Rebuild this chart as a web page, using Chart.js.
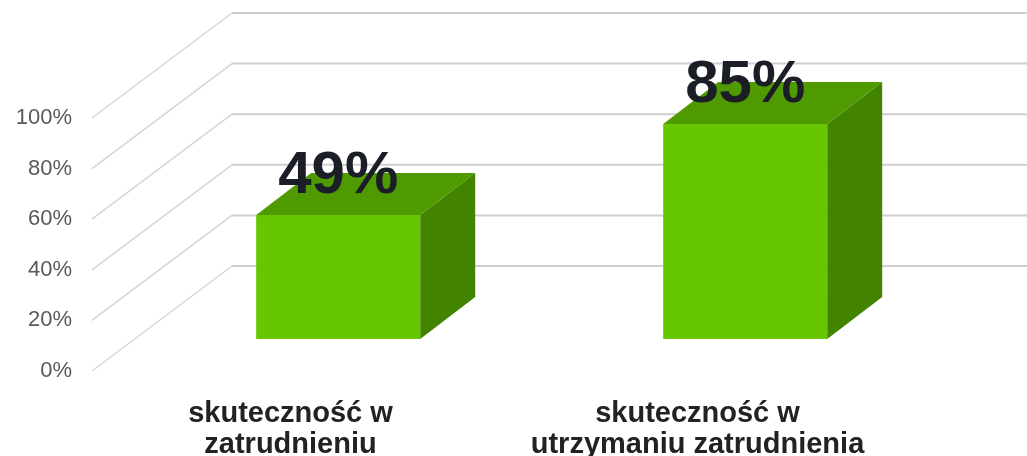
<!DOCTYPE html>
<html>
<head>
<meta charset="utf-8">
<script src="https://cdn.jsdelivr.net/npm/chart.js@4/dist/chart.umd.min.js"></script>
<style>
	html, body { margin: 0; padding: 0; background: #fff; }
	#myChart { display: block; }
</style>
</head>
<body>
<canvas id="myChart" width="1027" height="456"></canvas>
<script>
const categories = [["skuteczność w", "zatrudnieniu"], ["skuteczność w", "utrzymaniu zatrudnienia"]];
const values = [49, 85];
const valueLabels = ["49%", "85%"];
const yTicks = [0, 20, 40, 60, 80, 100];

// perspective settings
const wallDX = 140, wallDY = -105;   // front plane -> back wall
const barShift = 0.305;              // bar front face depth (fraction of wall depth)
const barDX = 55, barDY = -42;       // bar depth

const grid3d = {
	id: "grid3d",
	beforeDatasetsDraw(chart) {
		const ctx = chart.ctx;
		const y = chart.scales.y;
		const left = chart.chartArea.left;
		ctx.save();
		yTicks.forEach(v => {
			const yf = y.getPixelForValue(v);
			// diagonal
			ctx.beginPath();
			ctx.strokeStyle = "#d6d6d6";
			ctx.lineWidth = 1.5;
			ctx.moveTo(left, yf);
			ctx.lineTo(left + wallDX, yf + wallDY);
			ctx.stroke();
			// back wall line
			ctx.beginPath();
			ctx.strokeStyle = "#cfcfcf";
			ctx.lineWidth = 2;
			ctx.moveTo(left + wallDX, yf + wallDY);
			ctx.lineTo(chart.width, yf + wallDY);
			ctx.stroke();
		});
		ctx.restore();
	},
	afterDatasetsDraw(chart) {
		const ctx = chart.ctx;
		const meta = chart.getDatasetMeta(0);
		const ox = wallDX * barShift, oy = wallDY * barShift;
		ctx.save();
		meta.data.forEach((el, i) => {
			const L = el.x - el.width / 2 + ox;
			const R = el.x + el.width / 2 + ox;
			const T = el.y + oy;
			const B = el.base + oy;
			// side
			ctx.fillStyle = "#428400";
			ctx.beginPath();
			ctx.moveTo(R, T);
			ctx.lineTo(R + barDX, T + barDY);
			ctx.lineTo(R + barDX, B + barDY);
			ctx.lineTo(R, B);
			ctx.closePath();
			ctx.fill();
			// top
			ctx.fillStyle = "#4f9a00";
			ctx.beginPath();
			ctx.moveTo(L, T);
			ctx.lineTo(R, T);
			ctx.lineTo(R + barDX, T + barDY);
			ctx.lineTo(L + barDX, T + barDY);
			ctx.closePath();
			ctx.fill();
			// front
			ctx.fillStyle = "#66c600";
			ctx.fillRect(L, T, R - L, B - T);
			// value label
			ctx.fillStyle = "#1b1e27";
			ctx.font = "bold 60px 'Liberation Sans', Arial, sans-serif";
			ctx.textAlign = "center";
			ctx.textBaseline = "alphabetic";
			ctx.fillText(valueLabels[i], (L + R) / 2, T - 22);
		});
		ctx.restore();
	}
};

const ctx = document.getElementById("myChart").getContext("2d");
const myChart = new Chart(ctx, {
	type: "bar",
	data: {
		labels: categories,
		datasets: [{
			data: values,
			backgroundColor: "rgba(0,0,0,0)",
			borderWidth: 0,
			barPercentage: 0.403,
			categoryPercentage: 1
		}]
	},
	options: {
		responsive: false,
		animation: false,
		layout: { padding: { left: 0, right: 121, top: 118, bottom: 0 } },
		plugins: {
			legend: { display: false },
			tooltip: { enabled: false }
		},
		scales: {
			x: {
				grid: { display: false, drawTicks: false },
				border: { display: false },
				ticks: {
					color: "#222",
					font: { family: "'Liberation Sans', Arial, sans-serif", size: 29, weight: "bold", lineHeight: 1.07 },
					padding: 27,
					labelOffset: -5,
					maxRotation: 0,
					autoSkip: false
				},
				afterFit: s => { s.height = 85; }
			},
			y: {
				min: 0,
				max: 100,
				grid: { display: false, drawTicks: false },
				border: { display: false },
				ticks: {
					stepSize: 20,
					color: "#595959",
					font: { family: "'Liberation Sans', Arial, sans-serif", size: 22 },
					padding: 20,
					callback: v => v + "%"
				},
				afterFit: s => { s.width = 92; }
			}
		}
	},
	plugins: [grid3d]
});
</script>
</body>
</html>
